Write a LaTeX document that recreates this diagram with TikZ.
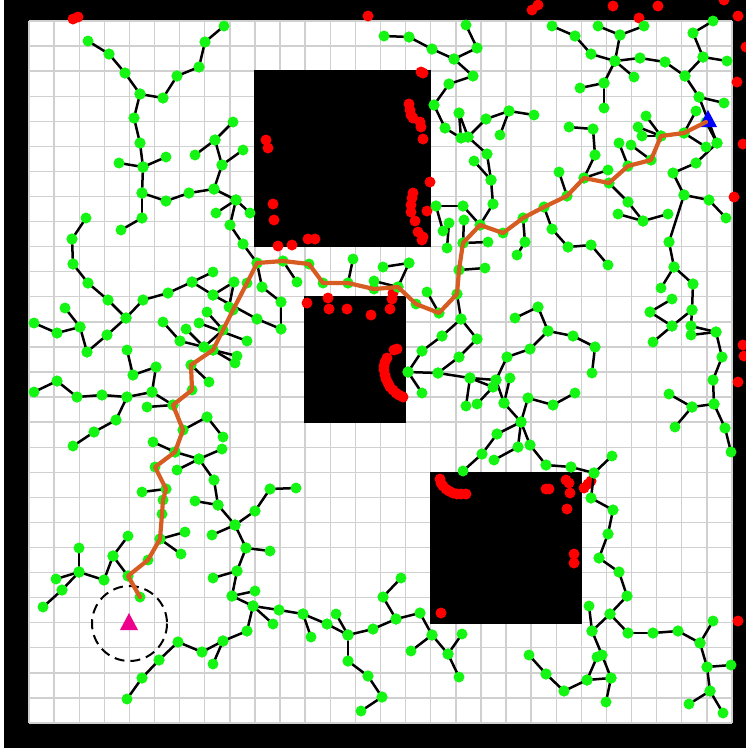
\documentclass[tikz,border=0pt]{standalone}
\usepackage{xcolor}
\usepackage{tikz}
\usetikzlibrary{calc}
\definecolor{treegreen}{RGB}{20,245,20}
\definecolor{hitred}{RGB}{255,0,0}
\definecolor{routeorange}{RGB}{214,92,34}
\definecolor{gridgray}{RGB}{208,208,208}
\tikzset{
  gridline/.style={draw=gridgray, line width=1.4pt},
  obstacle/.style={fill=black},
  treeedge/.style={draw=black, line width=2.5pt},
  treenode/.style={fill=treegreen},
  hitdot/.style={fill=hitred},
  route/.style={draw=routeorange, line width=4.2pt, line join=round, line cap=round},
  startmark/.style={fill=magenta},
  goalmark/.style={fill=blue},
  reachring/.style={draw=black, line width=2pt, dash pattern=on 10pt off 6pt},
}

% tree edges x1/y1/x2/y2 (image pixels)
\def\treeedges{88/41/109/54, 109/54/125/73, 125/73/140/94, 140/94/163/98, 163/98/177/76,
  177/76/199/67, 199/67/205/42, 205/42/224/26, 140/94/134/118, 134/118/140/143,
  140/143/143/167, 119/163/143/167, 143/167/166/157, 143/167/142/193, 142/193/166/201,
  166/201/189/193, 189/193/214/189, 214/189/236/200, 236/200/230/225, 230/225/243/244,
  216/213/236/200, 142/193/142/218, 142/218/121/230, 214/189/222/165, 222/165/215/140,
  215/140/195/155, 215/140/233/122, 222/165/243/150, 236/200/250/213, 86/218/72/239,
  72/239/73/264, 243/244/257/263,
  73/264/88/283, 88/283/108/300, 108/300/126/318, 126/318/107/335, 107/335/87/352,
  80/327/65/308, 80/327/57/333, 57/333/34/323, 80/327/87/352, 126/318/143/300,
  143/300/168/293, 168/293/192/282, 192/282/213/272, 192/282/213/295, 213/295/257/319,
  213/295/234/282, 234/282/229/307, 257/319/281/329, 163/322/180/341, 180/341/204/347,
  186/329/204/347, 204/347/223/330, 207/312/223/330, 199/323/247/341, 204/347/213/350,
  213/350/237/356, 213/350/235/363, 191/365/209/382, 127/350/133/375, 133/375/156/367,
  156/367/152/392, 152/392/173/405, 147/407/173/405, 34/392/57/381, 57/381/77/397,
  77/397/102/395, 102/395/127/397, 127/397/152/392, 127/397/116/420, 116/420/94/432,
  94/432/73/446, 183/430/207/417, 207/417/223/437, 153/442/175/452, 175/452/199/459,
  199/459/222/449, 177/470/199/459, 199/459/214/480, 214/480/218/505, 142/492/166/489,
  160/539/185/532, 160/539/181/554, 128/536/113/556, 113/556/128/576, 113/556/104/580,
  104/580/79/572, 79/572/79/548, 79/572/56/579, 79/572/62/590, 62/590/43/607,
  195/501/218/505, 218/505/235/525, 235/525/246/548, 246/548/237/571, 237/571/232/596,
  212/535/235/525, 213/578/237/571, 232/596/253/606, 253/606/247/631, 247/631/223/641,
  223/641/202/652, 202/652/178/642, 178/642/159/660, 159/660/142/678, 142/678/127/699,
  223/641/213/664,
  235/525/255/511, 255/511/270/489, 270/489/296/488, 246/548/270/551, 232/596/255/591,
  253/606/279/610, 279/610/303/614, 303/614/311/637, 303/614/327/624, 327/624/348/635,
  336/614/348/635, 348/635/373/629, 373/629/396/619, 396/619/420/613, 420/613/432/635,
  432/635/448/654, 448/654/459/677, 432/635/411/651, 448/654/462/634, 396/619/383/597,
  383/597/401/578, 348/635/348/661, 348/661/368/676, 368/676/382/697, 382/697/361/711,
  253/606/273/624,
  591/498/613/510, 613/510/608/534, 608/534/599/558, 599/558/619/572, 619/572/627/596,
  627/596/610/614, 610/614/592/631, 589/606/592/631, 610/614/628/633, 628/633/653/633,
  653/633/678/631, 678/631/700/643, 700/643/713/621, 700/643/707/667, 707/667/731/665,
  707/667/710/691, 710/691/689/704, 710/691/723/713, 592/631/602/655, 602/655/611/678,
  611/678/606/702, 611/678/587/680, 587/680/597/657, 587/680/564/691, 564/691/546/674,
  546/674/529/655,
  594/473/591/498, 525/242/517/255, 568/247/591/245, 591/245/608/265, 669/242/674/267,
  674/267/661/288, 674/267/693/284, 693/284/692/310, 672/299/650/312, 650/312/672/326,
  672/326/692/310, 672/326/653/342, 692/310/691/326, 691/326/716/332, 691/335/716/332,
  716/332/722/357, 722/357/713/380, 713/380/714/404, 714/404/725/428, 725/428/731/452,
  714/404/692/407, 692/407/669/394, 692/407/675/427, 538/307/515/318, 538/307/548/331,
  548/331/573/336, 573/336/595/347, 595/347/592/373, 548/331/530/349, 530/349/507/357,
  507/357/496/380, 496/380/504/403, 504/403/521/422, 510/378/504/403, 528/398/553/405,
  553/405/575/393, 528/398/521/422, 521/422/518/447, 521/422/530/445, 530/445/546/465,
  546/465/571/467, 571/467/594/473, 594/473/612/456, 521/422/497/434, 494/460/518/447,
  257/263/262/287, 262/287/281/302, 281/302/281/329, 283/261/297/282, 348/283/353/259,
  383/267/409/263, 409/263/398/287, 374/281/398/287, 427/292/439/313, 457/294/461/319,
  461/319/442/336, 442/336/422/351, 422/351/408/372, 408/372/422/393, 408/372/438/373,
  461/319/477/339, 477/339/459/357, 459/357/438/373, 438/373/470/378, 470/378/466/406,
  470/378/496/380, 470/378/493/387, 493/387/477/404, 459/270/485/268, 497/434/482/454,
  482/454/463/471,
  384/36/409/37, 409/37/432/49, 432/49/454/59, 454/59/477/48, 477/48/466/25, 454/59/473/76,
  473/76/449/84, 449/84/434/105, 434/105/445/128, 445/128/461/138, 459/113/461/138,
  459/113/468/137, 468/137/486/119, 468/137/487/154, 474/161/491/180, 487/154/491/180,
  491/180/493/204, 493/204/480/225, 486/119/509/111, 509/111/534/115, 509/111/500/135,
  436/206/463/206, 463/206/480/225, 436/206/443/231, 449/223/447/248, 464/220/463/243,
  463/243/488/242,
  552/26/575/36, 575/36/591/54, 591/54/615/61, 598/26/620/35, 620/35/644/26,
  620/35/615/61, 615/61/640/58, 640/58/665/62, 665/62/685/76, 685/76/703/57,
  703/57/693/33, 693/33/713/21, 703/57/727/61, 685/76/699/97, 699/97/724/103,
  699/97/717/143, 615/61/634/77, 615/61/604/83, 604/83/580/88, 604/83/604/108,
  569/127/593/129, 593/129/595/155, 595/155/584/178, 584/178/608/170, 559/172/567/196,
  544/207/552/229, 552/229/568/247, 523/218/525/242, 609/183/628/202, 628/202/643/221,
  643/221/668/214, 618/214/643/221, 628/166/619/143, 651/160/631/145, 661/136/646/116,
  661/136/638/127, 661/136/642/136, 684/133/696/111, 684/133/706/147, 706/122/717/143,
  717/143/696/163, 696/163/673/173, 673/173/684/195, 684/195/709/200, 709/200/726/218,
  684/195/669/242}

% solution route
\def\routepoints{(140,597) -- (128,576) -- (148,560) -- (160,539) -- (162,514) -- (163,500)
  -- (166,489) -- (155,467) -- (175,452) -- (183,430) -- (173,405) -- (192,390)
  -- (191,365) -- (213,350) -- (233,310) -- (247,283) -- (257,263) -- (283,261)
  -- (309,264) -- (323,283) -- (348,283) -- (374,289) -- (398,287) -- (416,304)
  -- (439,313) -- (457,294) -- (459,270) -- (463,243) -- (480,225) -- (503,233)
  -- (523,218) -- (544,207) -- (567,196) -- (584,178) -- (609,183) -- (628,166)
  -- (651,160) -- (661,136) -- (684,133) -- (706,122)}

\begin{document}
\begin{tikzpicture}[x=1pt, y=-1pt]

  \useasboundingbox (0,0) rectangle (746,748);

  % --- Map ---
  \fill[white] (0,0) rectangle (746,748);
  \fill[black] (4,0) rectangle (746,748);
  \fill[white] (29,21) rectangle (732,723);
  \foreach \i in {0,...,28} {
    \draw[gridline] ({29+\i*25.107},21) -- ({29+\i*25.107},723);
    \draw[gridline] (29,{21+\i*25.071}) -- (732,{21+\i*25.071});
  }

  % --- Obstacles ---
  \fill[obstacle] (254,70) rectangle (431,247);
  \fill[obstacle] (304,296) rectangle (406,423);
  \fill[obstacle] (430,472) rectangle (582,624);

  % --- Rejected samples ---
  \foreach \x/\y in {73/19, 78/17, 368/16, 532/10, 538/5, 613/6, 639/18, 658/6, 724/0,
      738/16, 746/47, 737/82, 743/144, 734/197, 743/345, 744/356, 738/382, 738/621,
      421/72, 423/73, 409/104, 410/110, 411/115, 413/118, 420/122, 421/127, 423/139,
      430/182, 413/193, 412/198, 411/205, 411/212, 427/211, 415/221, 418/232, 423/237,
      422/240, 266/140, 268/148, 273/204, 274/220, 278/246, 292/245, 308/239, 315/239,
      307/303, 328/298, 329/309, 347/309, 371/315, 390/309, 393/293, 392/299,
      394/350, 397/349, 387/358, 385/362, 384/366, 384/370, 385/375, 386/379, 388/383,
      390/387, 393/390, 396/393, 399/395, 403/397,
      440/479, 441/483, 443/486, 446/489, 449/491, 453/493, 457/494, 461/494, 466/494,
      546/489, 549/489, 566/480, 569/483, 570/493, 584/488, 588/484, 591/481, 567/509,
      574/554, 574/563, 441/613}
    \fill[hitdot] (\x,\y) circle (5.5);

  % --- Tree ---
  \foreach \a/\b/\c/\d in \treeedges
    \draw[treeedge] (\a,\b) -- (\c,\d);
  \draw[treeedge] \routepoints;
  \foreach \a/\b/\c/\d in \treeedges {
    \fill[treenode] (\a,\b) circle (5.5);
    \fill[treenode] (\c,\d) circle (5.5);
  }
  \foreach \x/\y in {140/597, 128/576, 148/560, 160/539, 162/514, 163/500, 166/489,
      155/467, 175/452, 183/430, 173/405, 192/390, 191/365, 213/350, 233/310, 247/283,
      257/263, 283/261, 309/264, 323/283, 348/283, 374/289, 398/287, 416/304, 439/313,
      457/294, 459/270, 463/243, 480/225, 503/233, 523/218, 544/207, 567/196, 584/178,
      609/183, 628/166, 651/160, 661/136, 684/133}
    \fill[treenode] (\x,\y) circle (5.5);

  % --- Start / goal ---
  \draw[reachring] (129.5,623.5) circle (37.5);
  \fill[startmark] (120,630) -- (138,630) -- (129,613) -- cycle;
  \fill[goalmark] (699,127) -- (717,127) -- (708,110) -- cycle;

  % --- Route ---
  \draw[route] \routepoints;

\end{tikzpicture}
\end{document}
